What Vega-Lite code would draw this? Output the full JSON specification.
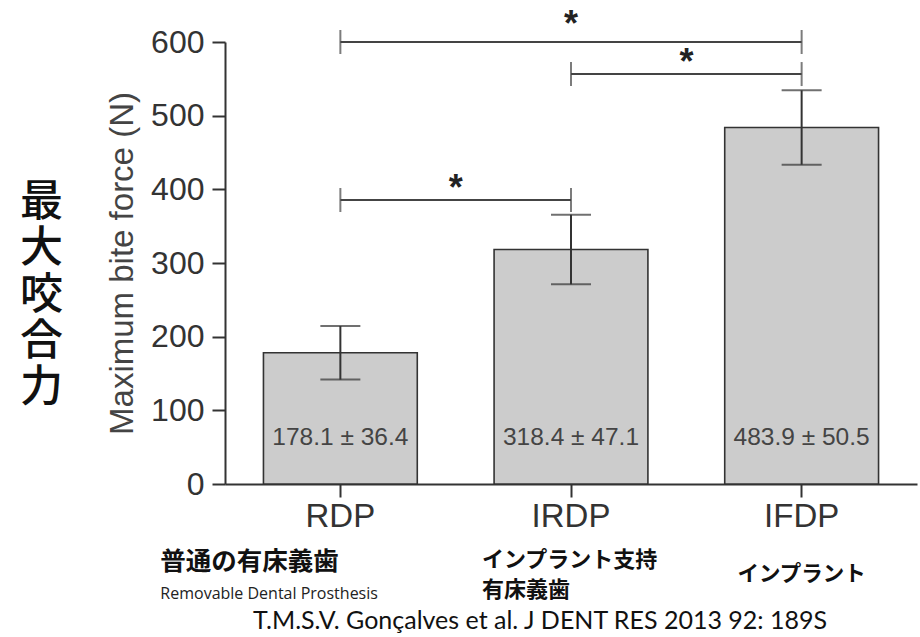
{
  "$schema": "https://vega.github.io/schema/vega-lite/v6.json",
  "autosize": {"type": "none"},
  "padding": {"left": 225, "top": 42, "right": 3, "bottom": 153},
  "width": 692,
  "height": 442,
  "background": "white",
  "config": {"view": {"stroke": null}, "font": "Liberation Sans"},
  "title": {
    "text": ["最", "大", "咬", "合", "力"],
    "orient": "left",
    "angle": 0,
    "anchor": "middle",
    "font": "Noto Sans CJK JP",
    "fontSize": 43,
    "fontWeight": 500,
    "lineHeight": 46.25,
    "color": "#111",
    "align": "center",
    "baseline": "middle",
    "offset": 22,
    "dy": -60
  },
  "datasets": {
    "bars": [
      {"cat": "RDP", "mean": 178.1, "sd": 36.4, "label": "178.1 ± 36.4"},
      {"cat": "IRDP", "mean": 318.4, "sd": 47.1, "label": "318.4 ± 47.1"},
      {"cat": "IFDP", "mean": 483.9, "sd": 50.5, "label": "483.9 ± 50.5"}
    ],
    "brackets": [
      {"from": "RDP", "to": "IFDP", "span": 2, "level": 600, "sig": "*"},
      {"from": "IRDP", "to": "IFDP", "span": 1, "level": 556.5, "sig": "*"},
      {"from": "RDP", "to": "IRDP", "span": 1, "level": 385.5, "sig": "*"}
    ]
  },
  "layer": [
    {
      "data": {"name": "bars"},
      "mark": {"type": "bar", "fill": "#cccccc", "stroke": "#333333", "strokeWidth": 1.6},
      "encoding": {
        "x": {
          "field": "cat", "type": "nominal",
          "scale": {"domain": ["RDP", "IRDP", "IFDP"], "paddingInner": 0.333, "paddingOuter": 0.1667},
          "axis": {"title": null, "labelAngle": 0, "labelFontSize": 33, "labelColor": "#333", "labelFont": "Liberation Sans",
                   "tickSize": 13, "tickWidth": 2, "tickColor": "#333", "domainColor": "#333", "domainWidth": 2, "labelPadding": 3}
        },
        "y": {
          "field": "mean", "type": "quantitative",
          "scale": {"domain": [0, 600], "nice": false},
          "axis": {"title": "Maximum bite force (N)", "values": [0, 100, 200, 300, 400, 500, 600], "grid": false,
                   "tickSize": 13, "tickWidth": 2, "tickColor": "#333", "domainColor": "#333", "domainWidth": 2,
                   "labelFontSize": 32, "labelColor": "#333", "labelFont": "Liberation Sans", "labelPadding": 8,
                   "titleFontSize": 33, "titleFont": "Liberation Sans", "titleFontWeight": "normal", "titleColor": "#444", "titlePadding": 11}
        }
      }
    },
    {
      "data": {"name": "bars"},
      "mark": {"type": "errorbar", "ticks": {"size": 40}, "color": "#333333", "thickness": 2},
      "encoding": {
        "x": {"field": "cat", "type": "nominal"},
        "y": {"field": "mean", "type": "quantitative", "title": "Maximum bite force (N)"},
        "yError": {"field": "sd"}
      }
    },
    {
      "data": {"name": "bars"},
      "mark": {"type": "text", "fontSize": 24.5, "color": "#444", "font": "Liberation Sans", "baseline": "middle"},
      "encoding": {
        "x": {"field": "cat", "type": "nominal"},
        "y": {"datum": 62},
        "text": {"field": "label"}
      }
    },
    {
      "data": {"name": "brackets"},
      "mark": {"type": "rule", "color": "#444", "strokeWidth": 2},
      "encoding": {
        "x": {"field": "from", "type": "nominal"},
        "x2": {"field": "to"},
        "y": {"field": "level", "type": "quantitative"}
      }
    },
    {
      "data": {"name": "brackets"},
      "mark": {"type": "tick", "orient": "vertical", "color": "#444", "size": 24, "thickness": 2},
      "encoding": {
        "x": {"field": "from", "type": "nominal"},
        "y": {"field": "level", "type": "quantitative"}
      }
    },
    {
      "data": {"name": "brackets"},
      "mark": {"type": "tick", "orient": "vertical", "color": "#444", "size": 24, "thickness": 2},
      "encoding": {
        "x": {"field": "to", "type": "nominal"},
        "y": {"field": "level", "type": "quantitative"}
      }
    },
    {
      "data": {"name": "brackets"},
      "transform": [{"filter": {"field": "span", "equal": 1}}],
      "mark": {"type": "text", "fontSize": 36, "color": "#222", "font": "Liberation Sans", "fontWeight": "bold", "baseline": "alphabetic", "dy": 0},
      "encoding": {
        "x": {"field": "from", "type": "nominal", "bandPosition": 1.25},
        "y": {"field": "level", "type": "quantitative"},
        "text": {"field": "sig"}
      }
    },
    {
      "data": {"name": "brackets"},
      "transform": [{"filter": {"field": "span", "equal": 2}}],
      "mark": {"type": "text", "fontSize": 36, "color": "#222", "font": "Liberation Sans", "fontWeight": "bold", "baseline": "alphabetic", "dy": -6},
      "encoding": {
        "x": {"field": "from", "type": "nominal", "bandPosition": 2.0},
        "y": {"field": "level", "type": "quantitative"},
        "text": {"field": "sig"}
      }
    },
    {
      "data": {"values": [{}]},
      "mark": {"type": "text", "font": "Noto Sans CJK JP", "fontWeight": "bold", "fontSize": 25.5, "color": "#111", "align": "left", "baseline": "middle", "dx": -180},
      "encoding": {"x": {"datum": "RDP"}, "y": {"datum": -106}, "text": {"value": "普通の有床義歯"}}
    },
    {
      "data": {"values": [{}]},
      "mark": {"type": "text", "font": "Open Sans", "fontSize": 16, "color": "#222", "align": "left", "baseline": "middle", "dx": -180},
      "encoding": {"x": {"datum": "RDP"}, "y": {"datum": -149}, "text": {"value": "Removable Dental Prosthesis"}}
    },
    {
      "data": {"values": [{}]},
      "mark": {"type": "text", "font": "Noto Sans CJK JP", "fontWeight": "bold", "fontSize": 22, "color": "#111", "align": "left", "baseline": "middle", "dx": -89, "lineHeight": 30},
      "encoding": {"x": {"datum": "IRDP"}, "y": {"datum": -103}, "text": {"value": ["インプラント支持", "有床義歯"]}}
    },
    {
      "data": {"values": [{}]},
      "mark": {"type": "text", "font": "Noto Sans CJK JP", "fontWeight": "bold", "fontSize": 21.5, "color": "#111", "align": "center", "baseline": "middle"},
      "encoding": {"x": {"datum": "IFDP"}, "y": {"datum": -123}, "text": {"value": "インプラント"}}
    },
    {
      "data": {"values": [{}]},
      "mark": {"type": "text", "font": "Lato", "fontSize": 25, "color": "#111", "align": "center", "baseline": "middle", "dx": -31},
      "encoding": {"x": {"datum": "IRDP"}, "y": {"datum": -186}, "text": {"value": "T.M.S.V. Gonçalves et al. J DENT RES 2013 92: 189S"}}
    }
  ]
}
